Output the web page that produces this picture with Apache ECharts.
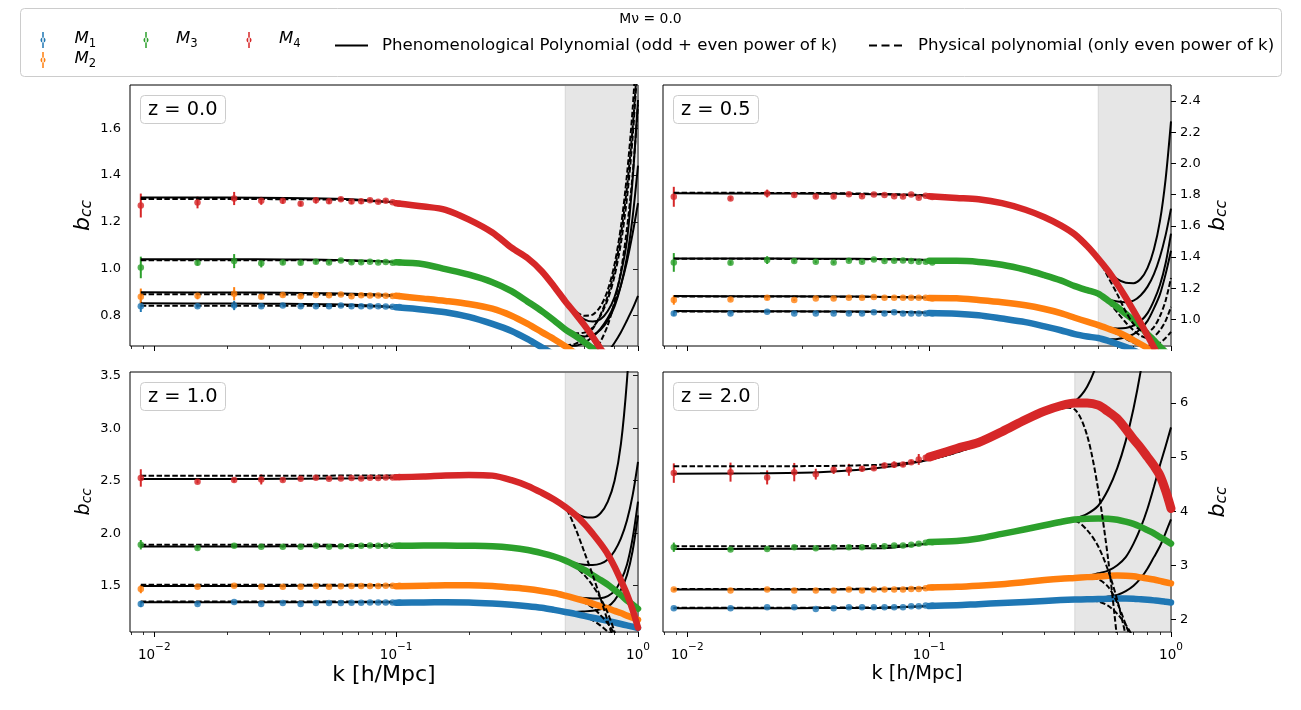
<!DOCTYPE html>
<html>
<head>
<meta charset="utf-8">
<title>b_cc vs k</title>
<script src="https://cdn.jsdelivr.net/npm/echarts@6.0.0/dist/echarts.min.js"></script>
<style>
html,body{margin:0;padding:0;background:#fff;}
#chart{width:1301px;height:710px;}
</style>
</head>
<body>
<div id="chart"></div>
<script>
// ================= DATA =================
const PANELS = ['z = 0.0', 'z = 0.5', 'z = 1.0', 'z = 2.0'];
const MASS = ['M1', 'M2', 'M3', 'M4'];
const FIT_NAMES = ['Phenomenological Polynomial (odd + even power of k)', 'Physical polynomial (only even power of k)'];
const SUPTITLE = 'M\u03bd = 0.0';

// k grid of the individually visible points
const K_PTS = [0.0088, 0.0151, 0.0214, 0.0277, 0.0340, 0.0403, 0.0466, 0.0528, 0.0591, 0.0654, 0.0717, 0.0780, 0.0843, 0.0906, 0.0968, 0.1031];
// k grid of the dense (overlapping) part of the measurements
const K_BAND = [0.10, 0.13, 0.16, 0.20, 0.25, 0.30, 0.35, 0.40, 0.45, 0.50, 0.55, 0.60, 0.65, 0.70, 0.75, 0.80, 0.85, 0.90, 0.95, 1.00];
// k grid of the fitted polynomials
const K_FIT = [0.0088, 0.02, 0.035, 0.05, 0.07, 0.10, 0.15, 0.20, 0.25, 0.30, 0.35, 0.40, 0.45, 0.50, 0.55, 0.60, 0.65, 0.70, 0.75, 0.80, 0.85, 0.90, 0.95, 1.00];

const SHADE_START = [0.5, 0.5, 0.5, 0.4];
const Y_RANGE = [[0.671, 1.784], [0.829, 2.503], [1.059, 3.535], [1.765, 6.574]];
const Y_TICKS = [[0.8, 1.0, 1.2, 1.4, 1.6], [1.0, 1.2, 1.4, 1.6, 1.8, 2.0, 2.2, 2.4], [1.5, 2.0, 2.5, 3.0, 3.5], [2, 3, 4, 5, 6]];
const X_MIN = 0.00794, X_MAX = 1.0;
const X_MAJOR = [0.01, 0.1, 1];
const X_MINOR = [0.008, 0.009, 0.02, 0.03, 0.04, 0.05, 0.06, 0.07, 0.08, 0.09, 0.2, 0.3, 0.4, 0.5, 0.6, 0.7, 0.8, 0.9];

// ---- z = 0.0 ----  (rows: M1, M2, M3, M4)
const PTS_Z00 = [
  [0.841, 0.841, 0.844, 0.841, 0.844, 0.840, 0.841, 0.841, 0.844, 0.840, 0.841, 0.840, 0.840, 0.839, 0.838, 0.837],
  [0.881, 0.885, 0.894, 0.881, 0.888, 0.883, 0.888, 0.887, 0.891, 0.883, 0.887, 0.886, 0.886, 0.885, 0.884, 0.884],
  [1.006, 1.026, 1.033, 1.024, 1.027, 1.026, 1.030, 1.027, 1.036, 1.028, 1.028, 1.030, 1.027, 1.029, 1.026, 1.028],
  [1.270, 1.283, 1.300, 1.290, 1.290, 1.278, 1.292, 1.288, 1.297, 1.287, 1.288, 1.292, 1.286, 1.290, 1.284, 1.278]
];
const ERR_Z00 = [
  [0.025, 0.008, 0.020, 0.006, 0.005, 0.004, 0.004, 0.004, 0.004, 0.003, 0.003, 0.003, 0.003, 0.003, 0.003, 0.003],
  [0.035, 0.015, 0.028, 0.010, 0.006, 0.005, 0.005, 0.004, 0.004, 0.004, 0.004, 0.003, 0.003, 0.003, 0.003, 0.003],
  [0.046, 0.012, 0.030, 0.018, 0.008, 0.008, 0.008, 0.006, 0.006, 0.006, 0.006, 0.005, 0.005, 0.005, 0.005, 0.005],
  [0.051, 0.025, 0.028, 0.017, 0.012, 0.010, 0.013, 0.010, 0.009, 0.010, 0.011, 0.008, 0.008, 0.009, 0.007, 0.007]
];
const BAND_Z00 = [
  [0.836, 0.826, 0.815, 0.795, 0.765, 0.735, 0.700, 0.665, 0.635, 0.605, 0.575, 0.550, 0.525, 0.500, 0.480, 0.460, 0.440, 0.420, 0.400, 0.380],
  [0.885, 0.873, 0.863, 0.850, 0.830, 0.800, 0.765, 0.730, 0.700, 0.670, 0.640, 0.610, 0.580, 0.550, 0.520, 0.500, 0.480, 0.460, 0.440, 0.420],
  [1.028, 1.020, 0.999, 0.975, 0.943, 0.905, 0.860, 0.820, 0.780, 0.742, 0.715, 0.688, 0.660, 0.630, 0.600, 0.575, 0.550, 0.530, 0.510, 0.490],
  [1.280, 1.266, 1.252, 1.210, 1.155, 1.090, 1.045, 0.990, 0.925, 0.862, 0.810, 0.760, 0.710, 0.660, 0.620, 0.580, 0.550, 0.520, 0.490, 0.460]
];
const SOLID_Z00 = [
  [0.853, 0.852, 0.851, 0.849, 0.846, 0.837, 0.817, 0.795, 0.765, 0.735, 0.700, 0.665, 0.635, 0.610, 0.595, 0.590, 0.597, 0.615, 0.645, 0.685, 0.730, 0.780, 0.830, 0.885],
  [0.900, 0.899, 0.898, 0.896, 0.893, 0.886, 0.866, 0.851, 0.830, 0.800, 0.765, 0.730, 0.700, 0.675, 0.672, 0.685, 0.710, 0.745, 0.790, 0.850, 0.930, 1.030, 1.150, 1.280],
  [1.041, 1.041, 1.040, 1.039, 1.036, 1.029, 1.003, 0.976, 0.943, 0.905, 0.862, 0.820, 0.780, 0.742, 0.720, 0.712, 0.718, 0.740, 0.780, 0.840, 0.930, 1.050, 1.220, 1.440],
  [1.304, 1.304, 1.302, 1.300, 1.295, 1.283, 1.256, 1.212, 1.155, 1.090, 1.045, 0.990, 0.925, 0.862, 0.815, 0.785, 0.775, 0.785, 0.820, 0.880, 0.980, 1.120, 1.380, 1.720]
];
const DASH_Z00 = [
  [0.843, 0.843, 0.843, 0.842, 0.841, 0.835, 0.816, 0.795, 0.765, 0.735, 0.700, 0.665, 0.635, 0.610, 0.600, 0.610, 0.640, 0.690, 0.760, 0.860, 0.990, 1.170, 1.400, 1.700],
  [0.892, 0.892, 0.891, 0.890, 0.888, 0.883, 0.865, 0.851, 0.830, 0.800, 0.765, 0.730, 0.700, 0.675, 0.680, 0.705, 0.745, 0.805, 0.885, 0.995, 1.145, 1.345, 1.600, 1.920],
  [1.037, 1.037, 1.037, 1.036, 1.034, 1.028, 1.003, 0.976, 0.943, 0.905, 0.862, 0.820, 0.780, 0.742, 0.725, 0.728, 0.750, 0.800, 0.870, 0.970, 1.110, 1.300, 1.560, 1.900],
  [1.298, 1.298, 1.297, 1.296, 1.292, 1.282, 1.256, 1.212, 1.155, 1.090, 1.045, 0.990, 0.925, 0.862, 0.820, 0.800, 0.805, 0.840, 0.910, 1.020, 1.180, 1.400, 1.680, 2.050]
];

// ---- z = 0.5 ----
const PTS_Z05 = [
  [1.038, 1.038, 1.049, 1.038, 1.038, 1.038, 1.038, 1.038, 1.045, 1.038, 1.045, 1.038, 1.038, 1.038, 1.038, 1.038],
  [1.124, 1.128, 1.139, 1.124, 1.134, 1.134, 1.139, 1.139, 1.143, 1.139, 1.139, 1.139, 1.139, 1.139, 1.139, 1.134],
  [1.365, 1.363, 1.380, 1.374, 1.369, 1.365, 1.376, 1.369, 1.384, 1.374, 1.376, 1.378, 1.374, 1.369, 1.369, 1.365],
  [1.786, 1.775, 1.807, 1.797, 1.788, 1.788, 1.803, 1.790, 1.801, 1.797, 1.790, 1.788, 1.801, 1.780, 1.793, 1.784]
];
const ERR_Z05 = [
  [0.015, 0.006, 0.008, 0.005, 0.004, 0.004, 0.004, 0.003, 0.003, 0.003, 0.003, 0.003, 0.003, 0.003, 0.003, 0.003],
  [0.030, 0.008, 0.015, 0.006, 0.005, 0.005, 0.004, 0.004, 0.004, 0.004, 0.004, 0.003, 0.003, 0.003, 0.003, 0.003],
  [0.060, 0.012, 0.025, 0.010, 0.008, 0.008, 0.007, 0.006, 0.006, 0.006, 0.005, 0.005, 0.005, 0.005, 0.005, 0.005],
  [0.064, 0.012, 0.025, 0.010, 0.008, 0.008, 0.010, 0.007, 0.007, 0.006, 0.006, 0.006, 0.006, 0.005, 0.005, 0.005]
];
const BAND_Z05 = [
  [1.040, 1.036, 1.026, 1.005, 0.982, 0.955, 0.930, 0.905, 0.890, 0.880, 0.862, 0.842, 0.822, 0.800, 0.780, 0.760, 0.740, 0.720, 0.700, 0.680],
  [1.137, 1.135, 1.124, 1.110, 1.090, 1.066, 1.040, 1.010, 0.985, 0.963, 0.940, 0.918, 0.893, 0.866, 0.840, 0.815, 0.790, 0.765, 0.740, 0.715],
  [1.375, 1.375, 1.368, 1.350, 1.318, 1.283, 1.250, 1.213, 1.187, 1.165, 1.120, 1.078, 1.035, 0.995, 0.952, 0.905, 0.865, 0.825, 0.790, 0.750],
  [1.790, 1.779, 1.770, 1.745, 1.703, 1.655, 1.603, 1.545, 1.470, 1.390, 1.310, 1.225, 1.140, 1.055, 0.975, 0.895, 0.820, 0.750, 0.690, 0.630]
];
const SOLID_Z05 = [
  [1.053, 1.052, 1.051, 1.050, 1.048, 1.043, 1.030, 1.008, 0.983, 0.957, 0.930, 0.907, 0.890, 0.880, 0.872, 0.874, 0.885, 0.905, 0.940, 0.990, 1.070, 1.160, 1.290, 1.440],
  [1.149, 1.148, 1.147, 1.146, 1.144, 1.140, 1.128, 1.110, 1.090, 1.066, 1.040, 1.010, 0.985, 0.963, 0.948, 0.942, 0.945, 0.960, 0.990, 1.040, 1.120, 1.220, 1.360, 1.550],
  [1.391, 1.390, 1.389, 1.388, 1.386, 1.381, 1.370, 1.350, 1.318, 1.283, 1.250, 1.213, 1.187, 1.165, 1.130, 1.115, 1.110, 1.120, 1.155, 1.210, 1.290, 1.400, 1.540, 1.710],
  [1.808, 1.807, 1.806, 1.804, 1.800, 1.793, 1.775, 1.748, 1.705, 1.655, 1.603, 1.545, 1.470, 1.390, 1.310, 1.258, 1.235, 1.232, 1.260, 1.330, 1.450, 1.630, 1.900, 2.270]
];
const DASH_Z05 = [
  [1.050, 1.050, 1.050, 1.049, 1.047, 1.042, 1.030, 1.008, 0.983, 0.957, 0.930, 0.907, 0.890, 0.880, 0.860, 0.840, 0.820, 0.800, 0.780, 0.760, 0.740, 0.720, 0.700, 0.680],
  [1.147, 1.147, 1.146, 1.145, 1.143, 1.139, 1.127, 1.110, 1.090, 1.066, 1.040, 1.010, 0.985, 0.963, 0.935, 0.905, 0.875, 0.850, 0.835, 0.830, 0.835, 0.850, 0.880, 0.920],
  [1.388, 1.388, 1.387, 1.386, 1.385, 1.380, 1.370, 1.350, 1.318, 1.283, 1.250, 1.213, 1.187, 1.165, 1.110, 1.045, 0.980, 0.930, 0.895, 0.880, 0.890, 0.930, 0.990, 1.080],
  [1.812, 1.811, 1.810, 1.807, 1.803, 1.795, 1.775, 1.748, 1.705, 1.655, 1.603, 1.545, 1.470, 1.390, 1.270, 1.160, 1.050, 0.970, 0.930, 0.920, 0.950, 1.020, 1.120, 1.265]
];

// ---- z = 1.0 ----
const PTS_Z10 = [
  [1.326, 1.326, 1.345, 1.326, 1.335, 1.326, 1.335, 1.335, 1.336, 1.338, 1.338, 1.340, 1.340, 1.340, 1.340, 1.340],
  [1.468, 1.490, 1.500, 1.490, 1.490, 1.490, 1.497, 1.490, 1.495, 1.497, 1.498, 1.497, 1.498, 1.500, 1.500, 1.500],
  [1.890, 1.859, 1.881, 1.871, 1.871, 1.871, 1.881, 1.871, 1.875, 1.878, 1.880, 1.882, 1.880, 1.880, 1.881, 1.880],
  [2.526, 2.490, 2.506, 2.512, 2.506, 2.519, 2.529, 2.519, 2.520, 2.525, 2.520, 2.528, 2.525, 2.530, 2.530, 2.535]
];
const ERR_Z10 = [
  [0.030, 0.008, 0.012, 0.006, 0.006, 0.005, 0.005, 0.005, 0.004, 0.004, 0.004, 0.004, 0.004, 0.004, 0.004, 0.004],
  [0.040, 0.010, 0.015, 0.008, 0.007, 0.006, 0.006, 0.006, 0.005, 0.005, 0.005, 0.005, 0.005, 0.005, 0.005, 0.005],
  [0.045, 0.015, 0.020, 0.012, 0.010, 0.010, 0.009, 0.009, 0.008, 0.008, 0.008, 0.008, 0.007, 0.007, 0.007, 0.007],
  [0.083, 0.015, 0.020, 0.048, 0.015, 0.015, 0.012, 0.012, 0.010, 0.010, 0.010, 0.010, 0.010, 0.010, 0.010, 0.010]
];
const BAND_Z10 = [
  [1.338, 1.340, 1.342, 1.340, 1.330, 1.318, 1.305, 1.290, 1.270, 1.250, 1.232, 1.212, 1.195, 1.180, 1.165, 1.150, 1.135, 1.122, 1.110, 1.097],
  [1.495, 1.500, 1.505, 1.505, 1.497, 1.482, 1.468, 1.450, 1.430, 1.405, 1.380, 1.355, 1.330, 1.305, 1.285, 1.260, 1.240, 1.215, 1.195, 1.175],
  [1.880, 1.882, 1.882, 1.880, 1.876, 1.862, 1.840, 1.810, 1.778, 1.740, 1.695, 1.650, 1.600, 1.555, 1.510, 1.460, 1.410, 1.360, 1.320, 1.280],
  [2.532, 2.540, 2.550, 2.555, 2.548, 2.505, 2.450, 2.385, 2.320, 2.250, 2.175, 2.090, 1.995, 1.900, 1.800, 1.680, 1.550, 1.420, 1.270, 1.100]
];
const SOLID_Z10 = [
  [1.343, 1.343, 1.343, 1.343, 1.342, 1.341, 1.341, 1.340, 1.330, 1.318, 1.305, 1.290, 1.270, 1.250, 1.250, 1.255, 1.262, 1.275, 1.300, 1.360, 1.460, 1.600, 1.830, 2.170],
  [1.497, 1.497, 1.498, 1.499, 1.500, 1.502, 1.505, 1.505, 1.497, 1.482, 1.468, 1.450, 1.430, 1.405, 1.390, 1.382, 1.378, 1.380, 1.400, 1.450, 1.550, 1.700, 1.950, 2.300],
  [1.874, 1.874, 1.875, 1.876, 1.877, 1.879, 1.881, 1.880, 1.876, 1.862, 1.840, 1.810, 1.778, 1.740, 1.715, 1.700, 1.697, 1.710, 1.750, 1.830, 1.950, 2.120, 2.360, 2.680],
  [2.515, 2.516, 2.518, 2.520, 2.523, 2.530, 2.548, 2.555, 2.548, 2.505, 2.450, 2.385, 2.315, 2.245, 2.190, 2.155, 2.150, 2.190, 2.300, 2.500, 2.850, 3.450, 4.300, 5.300]
];
const DASH_Z10 = [
  [1.350, 1.350, 1.350, 1.349, 1.348, 1.346, 1.343, 1.340, 1.330, 1.318, 1.305, 1.290, 1.270, 1.250, 1.230, 1.205, 1.170, 1.120, 1.060, 0.980, 0.880, 0.760, 0.620, 0.460],
  [1.510, 1.510, 1.510, 1.509, 1.508, 1.507, 1.506, 1.505, 1.497, 1.482, 1.468, 1.450, 1.430, 1.405, 1.375, 1.340, 1.290, 1.220, 1.140, 1.040, 0.920, 0.780, 0.620, 0.440],
  [1.890, 1.890, 1.890, 1.889, 1.888, 1.886, 1.883, 1.880, 1.876, 1.862, 1.840, 1.810, 1.778, 1.740, 1.680, 1.600, 1.500, 1.380, 1.240, 1.060, 0.850, 0.600, 0.350, 0.100],
  [2.548, 2.548, 2.548, 2.548, 2.549, 2.550, 2.552, 2.555, 2.548, 2.505, 2.450, 2.385, 2.315, 2.245, 2.050, 1.820, 1.600, 1.380, 1.160, 0.950, 0.700, 0.450, 0.200, -0.050]
];

// ---- z = 2.0 ----
const PTS_Z20 = [
  [2.204, 2.204, 2.222, 2.222, 2.191, 2.204, 2.222, 2.222, 2.222, 2.222, 2.222, 2.222, 2.241, 2.241, 2.253, 2.253],
  [2.550, 2.531, 2.550, 2.531, 2.531, 2.531, 2.550, 2.531, 2.550, 2.550, 2.550, 2.550, 2.562, 2.562, 2.574, 2.586],
  [3.333, 3.290, 3.302, 3.333, 3.315, 3.333, 3.333, 3.333, 3.352, 3.352, 3.364, 3.364, 3.377, 3.395, 3.414, 3.426],
  [4.704, 4.722, 4.624, 4.722, 4.685, 4.765, 4.765, 4.784, 4.796, 4.846, 4.858, 4.864, 4.907, 4.957, 4.988, 5.000]
];
const ERR_Z20 = [
  [0.020, 0.010, 0.012, 0.010, 0.010, 0.010, 0.010, 0.010, 0.010, 0.010, 0.010, 0.010, 0.010, 0.010, 0.010, 0.010],
  [0.030, 0.012, 0.015, 0.012, 0.012, 0.012, 0.012, 0.012, 0.012, 0.012, 0.012, 0.012, 0.012, 0.012, 0.012, 0.012],
  [0.086, 0.025, 0.025, 0.020, 0.020, 0.020, 0.020, 0.020, 0.020, 0.020, 0.020, 0.020, 0.020, 0.020, 0.020, 0.020],
  [0.180, 0.176, 0.130, 0.170, 0.100, 0.077, 0.110, 0.050, 0.040, 0.050, 0.060, 0.040, 0.040, 0.100, 0.050, 0.050]
];
const BAND_Z20 = [
  [2.245, 2.260, 2.280, 2.300, 2.320, 2.340, 2.355, 2.365, 2.370, 2.375, 2.380, 2.383, 2.383, 2.380, 2.370, 2.360, 2.350, 2.340, 2.325, 2.310],
  [2.590, 2.600, 2.620, 2.650, 2.690, 2.725, 2.750, 2.765, 2.780, 2.790, 2.805, 2.810, 2.805, 2.795, 2.775, 2.755, 2.735, 2.710, 2.685, 2.665],
  [3.430, 3.450, 3.495, 3.580, 3.665, 3.740, 3.800, 3.845, 3.860, 3.864, 3.858, 3.840, 3.805, 3.765, 3.710, 3.648, 3.590, 3.520, 3.460, 3.400],
  [5.000, 5.160, 5.270, 5.470, 5.690, 5.850, 5.950, 6.000, 6.000, 5.960, 5.840, 5.710, 5.520, 5.330, 5.170, 5.000, 4.840, 4.660, 4.380, 4.050]
];
const SOLID_Z20 = [
  [2.204, 2.205, 2.207, 2.210, 2.215, 2.245, 2.265, 2.290, 2.315, 2.335, 2.350, 2.360, 2.370, 2.390, 2.420, 2.450, 2.520, 2.620, 2.760, 2.940, 3.150, 3.350, 3.600, 3.850],
  [2.550, 2.550, 2.552, 2.555, 2.560, 2.580, 2.610, 2.645, 2.685, 2.725, 2.750, 2.770, 2.800, 2.850, 2.900, 3.000, 3.150, 3.400, 3.700, 4.050, 4.450, 4.850, 5.200, 5.550],
  [3.302, 3.303, 3.306, 3.312, 3.325, 3.400, 3.470, 3.570, 3.660, 3.740, 3.800, 3.860, 3.950, 4.100, 4.400, 4.800, 5.300, 5.900, 6.600, 7.400, 8.200, 9.000, 9.800, 10.600],
  [4.690, 4.700, 4.720, 4.760, 4.830, 4.950, 5.180, 5.450, 5.660, 5.820, 5.930, 6.030, 6.300, 6.800, 7.500, 8.300, 9.100, 9.900, 10.700, 11.500, 12.300, 13.100, 13.900, 14.700]
];
const DASH_Z20 = [
  [2.215, 2.215, 2.216, 2.218, 2.222, 2.245, 2.265, 2.290, 2.315, 2.335, 2.350, 2.360, 2.350, 2.330, 2.250, 2.100, 1.900, 1.650, 1.300, 1.000, 0.600, 0.200, -0.200, -0.600],
  [2.560, 2.560, 2.561, 2.563, 2.567, 2.580, 2.610, 2.645, 2.685, 2.725, 2.750, 2.765, 2.770, 2.740, 2.600, 2.300, 1.900, 1.500, 1.000, 0.500, 0.000, -0.500, -1.000, -1.500],
  [3.352, 3.352, 3.353, 3.355, 3.360, 3.400, 3.470, 3.570, 3.660, 3.740, 3.800, 3.820, 3.650, 3.350, 2.900, 2.350, 1.700, 1.000, 0.200, -0.600, -1.400, -2.200, -3.000, -3.800],
  [4.830, 4.830, 4.835, 4.845, 4.870, 4.950, 5.180, 5.450, 5.660, 5.820, 5.920, 5.880, 5.400, 4.400, 3.100, 1.600, 0.100, -1.400, -2.900, -4.400, -5.900, -7.400, -8.900, -10.400]
];

// ================= CHART =================
const FONT = 'DejaVu Sans';
const COLORS = ['#1f77b4', '#ff7f0e', '#2ca02c', '#d62728'];
const lg = Math.log10;
const PANEL_DATA = [
  {pts: PTS_Z00, err: ERR_Z00, band: BAND_Z00, solid: SOLID_Z00, dash: DASH_Z00},
  {pts: PTS_Z05, err: ERR_Z05, band: BAND_Z05, solid: SOLID_Z05, dash: DASH_Z05},
  {pts: PTS_Z10, err: ERR_Z10, band: BAND_Z10, solid: SOLID_Z10, dash: DASH_Z10},
  {pts: PTS_Z20, err: ERR_Z20, band: BAND_Z20, solid: SOLID_Z20, dash: DASH_Z20}
];
// layout (pixels): left, top, width, height
const GRID_BOX = [[130, 85, 508, 261], [663, 85, 508, 261], [130, 372, 508, 260], [663, 372, 508, 260]];
const Y_NAME_SIZE = [22, 22, 19.4, 22];
const X_NAME_SIZE = [22, 19.4];

const grids = [], xAxes = [], yAxes = [], series = [];
const xMin = lg(X_MIN), xMax = lg(X_MAX);

GRID_BOX.forEach((g, p) => {
  grids.push({left: g[0], top: g[1], width: g[2], height: g[3], show: true,
    borderColor: '#000', borderWidth: 1, backgroundColor: 'transparent', containLabel: false});
  const bottom = p >= 2;
  const right = p % 2 === 1;
  xAxes.push({
    gridIndex: p, type: 'value', position: 'bottom', min: xMin, max: xMax,
    axisLine: {show: false}, splitLine: {show: false},
    axisTick: {show: true, length: 5, lineStyle: {color: '#000', width: 1}, customValues: X_MAJOR.map(lg)},
    axisLabel: {
      show: bottom, customValues: X_MAJOR.map(lg), margin: 10, color: '#000',
      formatter: v => { const e = Math.round(v); return '{b|10}{s|' + (e < 0 ? '\u2212' + (-e) : e) + '}'; },
      rich: {
        b: {fontFamily: FONT, fontSize: 13.5, color: '#000', lineHeight: 20, verticalAlign: 'bottom'},
        s: {fontFamily: FONT, fontSize: 10.5, color: '#000', lineHeight: 11, verticalAlign: 'top'}
      }
    },
    name: bottom ? 'k [h/Mpc]' : '', nameLocation: 'middle', nameGap: 32,
    nameTextStyle: {fontFamily: FONT, fontSize: X_NAME_SIZE[p % 2], color: '#000', lineHeight: X_NAME_SIZE[p % 2]}
  });
  xAxes.push({
    gridIndex: p, type: 'value', position: 'bottom', min: xMin, max: xMax,
    axisLine: {show: false}, splitLine: {show: false}, axisLabel: {show: false},
    axisTick: {show: true, length: 3, lineStyle: {color: '#000', width: 0.8}, customValues: X_MINOR.map(lg)}
  });
  const ys = Y_NAME_SIZE[p];
  yAxes.push({
    gridIndex: p, type: 'value', position: right ? 'right' : 'left',
    min: Y_RANGE[p][0], max: Y_RANGE[p][1],
    axisLine: {show: false}, splitLine: {show: false},
    axisTick: {show: true, length: 5, lineStyle: {color: '#000', width: 1}, customValues: Y_TICKS[p]},
    axisLabel: {customValues: Y_TICKS[p], margin: 9, color: '#000', fontFamily: FONT, fontSize: 13,
      formatter: v => p === 3 ? String(Math.round(v)) : v.toFixed(1)},
    name: '{b|b}{s|cc}', nameLocation: 'middle', nameRotate: 90, nameGap: 36,
    nameTextStyle: {
      rich: {
        b: {fontFamily: FONT, fontStyle: 'italic', fontSize: ys, color: '#000', lineHeight: ys, verticalAlign: 'top'},
        s: {fontFamily: FONT, fontStyle: 'italic', fontSize: ys * 0.7, color: '#000', lineHeight: ys * 0.4, verticalAlign: 'bottom'}
      }
    }
  });

  const xi = 2 * p, yi = p;
  // shaded k-range (excluded from fit)
  series.push({
    type: 'custom', xAxisIndex: xi, yAxisIndex: yi, silent: true, z: 1, clip: true,
    data: [[lg(SHADE_START[p]), Y_RANGE[p][0]]],
    renderItem: (params, api) => {
      const a = api.coord([api.value(0), Y_RANGE[p][1]]);
      const b = api.coord([xMax, Y_RANGE[p][0]]);
      return {type: 'rect', shape: {x: a[0], y: a[1], width: b[0] - a[0], height: b[1] - a[1]},
        style: {fill: 'rgba(128,128,128,0.2)', stroke: 'rgba(128,128,128,0.22)', lineWidth: 1}};
    }
  });

  const D = PANEL_DATA[p];
  for (let m = 0; m < 4; m++) {
    const c = COLORS[m];
    // fits
    series.push({
      name: FIT_NAMES[0], type: 'line', xAxisIndex: xi, yAxisIndex: yi, z: 2, silent: true,
      data: K_FIT.map((k, i) => [lg(k), D.solid[m][i]]), symbol: 'none', smooth: 0.3,
      itemStyle: {color: '#000'}, lineStyle: {color: '#000', width: 2}
    });
    series.push({
      name: FIT_NAMES[1], type: 'line', xAxisIndex: xi, yAxisIndex: yi, z: 2, silent: true,
      data: K_FIT.map((k, i) => [lg(k), D.dash[m][i]]), symbol: 'none', smooth: 0.3,
      itemStyle: {color: '#000'}, lineStyle: {color: '#000', width: 2, type: [5.5, 2.4]}
    });
    // dense measurements
    series.push({
      name: MASS[m], type: 'line', xAxisIndex: xi, yAxisIndex: yi, z: 2, silent: true,
      data: K_BAND.map((k, i) => [lg(k), D.band[m][i]]), symbol: 'none', smooth: 0.3,
      itemStyle: {color: c},
      lineStyle: {color: c, width: (p === 3 && m === 3) ? 9 : 6.5, cap: 'round', join: 'round'}
    });
    // error bars
    series.push({
      name: MASS[m], type: 'custom', xAxisIndex: xi, yAxisIndex: yi, z: 2, silent: true, clip: true,
      itemStyle: {color: c},
      data: K_PTS.map((k, i) => [lg(k), D.pts[m][i], D.err[m][i]]),
      renderItem: (params, api) => {
        const x = api.value(0), y = api.value(1), e = api.value(2);
        const a = api.coord([x, y - e]), b = api.coord([x, y + e]);
        return {type: 'line', shape: {x1: a[0], y1: a[1], x2: b[0], y2: b[1]}, style: {stroke: c, lineWidth: 2}};
      }
    });
    // points
    series.push({
      name: MASS[m], type: 'scatter', xAxisIndex: xi, yAxisIndex: yi, z: 2, silent: true,
      data: K_PTS.map((k, i) => [lg(k), D.pts[m][i]]), symbol: 'circle', symbolSize: 6.5,
      itemStyle: {color: c}
    });
  }
});

const ERR_ICON = 'path://M1.75,0h1.5v16h-1.5z M0,8a2.5,2.5 0 1,0 5,0a2.5,2.5 0 1,0 -5,0z';
const LINE_ICON = 'path://M0,0h33v2h-33z';
const DASH_ICON = 'path://M0,0h8v2h-8z M12.5,0h8v2h-8z M25,0h8v2h-8z';
function legendItem(name, left, top, icon, w, h, pad) {
  return {
    data: [name], left: left, top: top, padding: 0, icon: icon, itemWidth: w, itemHeight: h,
    selectedMode: false, orient: 'horizontal',
    formatter: n => (n.length === 2 && n[0] === 'M') ? '{i|M}{s|' + n[1] + '}' : n,
    textStyle: {
      fontFamily: FONT, fontSize: 16.6, color: '#000', padding: [0, 0, 0, pad],
      rich: {
        i: {fontFamily: FONT, fontStyle: 'italic', fontSize: 16.6, color: '#000', lineHeight: 20, verticalAlign: 'top'},
        s: {fontFamily: FONT, fontSize: 11.6, color: '#000', lineHeight: 8, verticalAlign: 'bottom'}
      }
    }
  };
}

const titles = [{
  text: SUPTITLE, left: 'center', top: 12, padding: 0,
  textStyle: {fontFamily: FONT, fontSize: 13.9, fontWeight: 'normal', color: '#000'}
}];
GRID_BOX.forEach((g, p) => {
  titles.push({
    text: PANELS[p], left: g[0] + 10, top: g[1] + 10, padding: [5, 8],
    borderColor: '#cccccc', borderWidth: 1, borderRadius: 4, backgroundColor: 'rgba(255,255,255,0.85)',
    textStyle: {fontFamily: FONT, fontSize: 19.4, fontWeight: 'normal', color: '#000'}
  });
});

const option = {
  animation: false,
  backgroundColor: '#fff',
  title: titles,
  graphic: [{
    type: 'rect', left: 20, top: 8, z: -1, silent: true,
    shape: {width: 1261, height: 68, r: 4},
    style: {fill: '#fff', stroke: '#cccccc', lineWidth: 1}
  }],
  legend: [
    legendItem('M1', 40.5, 30, ERR_ICON, 5, 16, 24),
    legendItem('M2', 40.5, 50, ERR_ICON, 5, 16, 24),
    legendItem('M3', 143.5, 30, ERR_ICON, 5, 16, 22.5),
    legendItem('M4', 246.5, 30, ERR_ICON, 5, 16, 22.5),
    legendItem(FIT_NAMES[0], 335, 37, LINE_ICON, 33, 2, 9),
    legendItem(FIT_NAMES[1], 869, 37, DASH_ICON, 33, 2, 11)
  ],
  grid: grids,
  xAxis: xAxes,
  yAxis: yAxes,
  series: series
};

const chart = echarts.init(document.getElementById('chart'));
chart.setOption(option);
</script>
</body>
</html>
